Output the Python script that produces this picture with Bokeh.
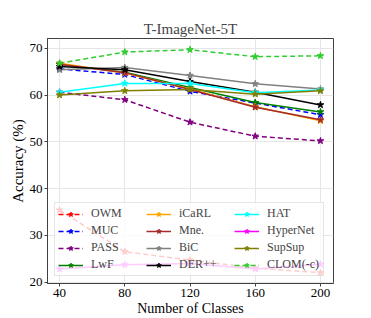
from bokeh.plotting import figure
from bokeh.models import Legend, LegendItem, Range1d, FixedTicker
from bokeh.embed import file_html
from bokeh.resources import INLINE

classes = [40, 80, 120, 160, 200]
methods = ["OWM", "MUC", "PASS", "LwF", "iCaRL", "Mne.", "BiC", "DER++",
           "HAT", "HyperNet", "SupSup", "CLOM(-c)"]
owm = [35.4, 26.5, 24.7, 23.0, 22.0]
muc = [65.6, 64.4, 60.8, 58.3, 55.8]
pass_ = [60.6, 59.0, 54.2, 51.2, 50.2]
lwf = [66.6, 64.9, 61.6, 58.4, 56.4]
icarl = [66.8, 64.7, 61.3, 57.5, 54.5]
mne = [66.6, 64.8, 61.2, 57.4, 54.7]
bic = [65.4, 65.9, 64.2, 62.4, 61.3]
derpp = [66.1, 65.4, 62.9, 60.6, 57.9]
hat = [60.6, 62.5, 62.5, 60.5, 61.1]
hypernet = [22.8, 23.7, 24.0, 22.8, 23.8]
supsup = [60.0, 60.9, 61.2, 60.2, 60.9]
clom = [66.8, 69.2, 69.7, 68.2, 68.4]
y_ticks = [20, 30, 40, 50, 60, 70]

series = [owm, muc, pass_, lwf, icarl, mne, bic, derpp, hat, hypernet, supsup, clom]
colors = ["red", "blue", "purple", "green", "orange", "brown", "gray", "black",
          "cyan", "magenta", "olive", "limegreen"]
dashed = [True, True, True, False, False, False, False, False, False, False, False, True]

FONT = "Liberation Serif"

p = figure(width=363, height=318, output_backend="svg", toolbar_location=None,
           title="T-ImageNet-5T", x_range=Range1d(32.6, 208), y_range=Range1d(19.7, 72.1),
           min_border_left=47, min_border_top=38, min_border_bottom=35, min_border_right=30)

p.title.text_font = FONT
p.title.text_font_size = "15px"
p.title.text_font_style = "normal"
p.title.align = "center"
p.title.standoff = 4

p.outline_line_color = "#404040"
p.outline_line_width = 1
p.outline_line_alpha = 1

for ax in (p.xaxis[0], p.yaxis[0]):
    ax.axis_line_color = "#404040"
    ax.major_tick_line_color = "#404040"
    ax.major_tick_out = 3
    ax.major_tick_in = 0
    ax.minor_tick_line_color = None
    ax.major_label_text_font = FONT
    ax.major_label_text_font_size = "13px"
    ax.major_label_text_color = "black"
    ax.major_label_standoff = 2
    ax.axis_label_text_font = FONT
    ax.axis_label_text_font_style = "normal"
    ax.axis_label_text_color = "black"
    ax.axis_label_standoff = 1

p.xaxis.axis_label = "Number of Classes"
p.xaxis.axis_label_text_font_size = "14px"
p.yaxis.axis_label = "Accuracy (%)"
p.yaxis.axis_label_text_font_size = "15px"
p.xaxis.ticker = FixedTicker(ticks=classes)
p.yaxis.ticker = FixedTicker(ticks=y_ticks)

p.grid.grid_line_color = "#e6e6e6"
p.grid.grid_line_width = 1

items = []
for name, vals, col, d in zip(methods, series, colors, dashed):
    r1 = p.line(classes, vals, line_color=col, line_width=1.5,
                line_dash="5 3" if d else "solid")
    r2 = p.scatter(classes, vals, marker="star", size=7, fill_color=col, line_color=col)
    items.append(LegendItem(label=name, renderers=[r1, r2]))

legend = Legend(items=items, location="bottom_left", ncols=3, nrows=4,
                label_text_font=FONT, label_text_font_size="12px",
                glyph_width=25, glyph_height=12, label_height=12,
                label_standoff=8, label_width=53, spacing=2, padding=3, margin=7,
                background_fill_color="white", background_fill_alpha=0.8,
                border_line_color="#cccccc", border_line_width=1)
p.add_layout(legend, "center")

open("out.html", "w").write(file_html(p, INLINE))
